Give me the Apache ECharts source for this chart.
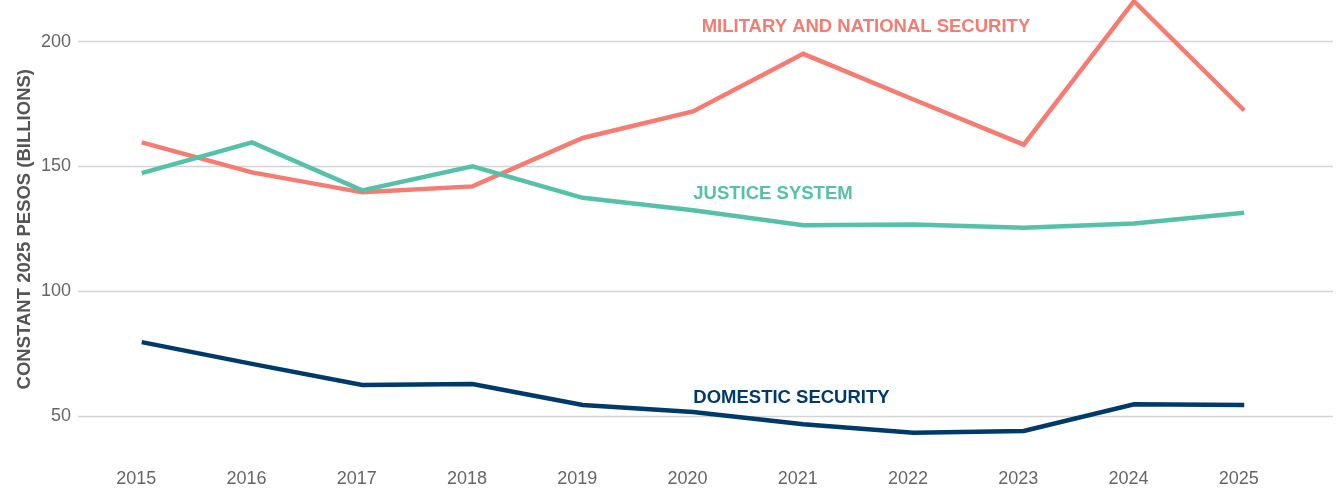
<!DOCTYPE html>
<html>
<head>
<meta charset="utf-8">
<style>
  html, body { margin: 0; padding: 0; background: #fff; }
  #chart { width: 1336px; height: 488px; }
</style>
<script src="https://cdn.jsdelivr.net/npm/echarts@6/dist/echarts.min.js"></script>
</head>
<body>
<div id="chart"></div>
<script>
// Security spending, constant 2025 pesos (billions)
const years = [2015, 2016, 2017, 2018, 2019, 2020, 2021, 2022, 2023, 2024, 2025];
const military = [159.6, 147.6, 139.6, 142.0, 161.4, 172.0, 195.1, 176.8, 158.7, 216.2, 172.4];
const justice = [147.3, 159.6, 140.4, 150.0, 137.4, 132.4, 126.4, 126.7, 125.4, 127.1, 131.4];
const domestic = [79.6, 70.9, 62.4, 62.8, 54.4, 51.6, 46.7, 43.3, 44.0, 54.7, 54.4];
const yTicks = [50, 100, 150, 200];

const COLORS = { military: '#f67b71', justice: '#55c1a9', domestic: '#003a6b' };
const FONT = '"Liberation Sans", Arial, Helvetica, sans-serif';

const pairs = arr => years.map((y, i) => [y, arr[i]]);

const lineSeries = (name, values, color) => ({
  name,
  type: 'line',
  data: pairs(values),
  symbol: 'none',
  clip: false,
  lineStyle: { color, width: 4.5, join: 'miter' },
  itemStyle: { color }
});

const chart = echarts.init(document.getElementById('chart'), null, { renderer: 'canvas' });

chart.setOption({
  animation: false,
  backgroundColor: '#ffffff',
  textStyle: { fontFamily: FONT },
  grid: { left: 78, right: 3, top: 0, bottom: 71.33, containLabel: false },
  xAxis: {
    type: 'value',
    min: 2014.422,
    max: 2025.805,
    axisLine: { show: false },
    axisTick: { show: false },
    splitLine: { show: false },
    axisLabel: {
      customValues: years,
      margin: 54,
      fontSize: 18,
      color: '#666666',
      fontFamily: FONT,
      padding: [0, 11, 0, 0],
      formatter: v => String(v)
    }
  },
  yAxis: {
    type: 'value',
    min: 50,
    max: 216.67,
    interval: 50,
    axisLine: { show: false },
    axisTick: { show: false },
    splitLine: { showMaxLine: false, lineStyle: { color: '#d4d4d4', width: 1.4 } },
    axisLabel: {
      margin: 7,
      fontSize: 18,
      color: '#666666',
      fontFamily: FONT,
      showMaxLabel: false,
      formatter: v => (yTicks.includes(v) ? String(v) : '')
    }
  },
  series: [
    lineSeries('Military and national security', military, COLORS.military),
    lineSeries('Justice system', justice, COLORS.justice),
    lineSeries('Domestic security', domestic, COLORS.domestic)
  ],
  graphic: [
    {
      type: 'text', x: 25, y: 229.2, rotation: Math.PI / 2,
      style: {
        text: 'CONSTANT 2025 PESOS (BILLIONS)', fill: '#555555',
        font: 'bold 18.5px ' + FONT, textAlign: 'center', textVerticalAlign: 'middle'
      }
    },
    {
      type: 'text', x: 701.7, y: 26.7,
      style: {
        text: 'MILITARY AND NATIONAL SECURITY', fill: COLORS.military,
        font: 'bold 18.5px ' + FONT, textAlign: 'left', textVerticalAlign: 'middle'
      }
    },
    {
      type: 'text', x: 693.3, y: 194.3,
      style: {
        text: 'JUSTICE SYSTEM', fill: COLORS.justice,
        font: 'bold 18.5px ' + FONT, textAlign: 'left', textVerticalAlign: 'middle'
      }
    },
    {
      type: 'text', x: 693.3, y: 398.3,
      style: {
        text: 'DOMESTIC SECURITY', fill: COLORS.domestic,
        font: 'bold 18.5px ' + FONT, textAlign: 'left', textVerticalAlign: 'middle'
      }
    }
  ]
});
</script>
</body>
</html>
